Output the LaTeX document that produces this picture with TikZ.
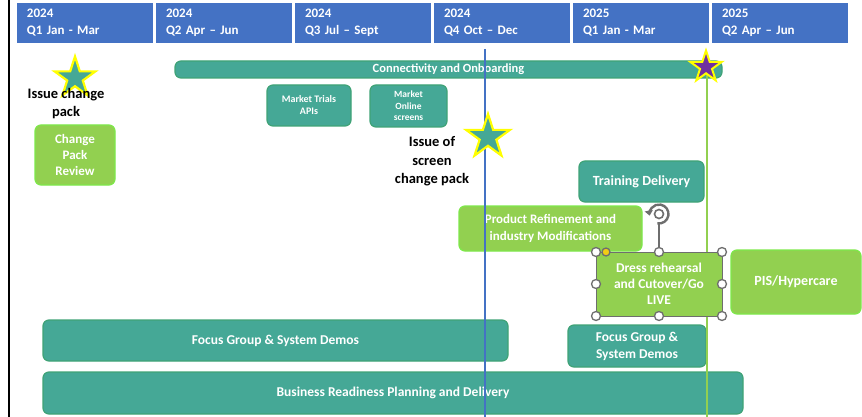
\documentclass[tikz,border=0pt]{standalone}
\usepackage{fontspec}
\setmainfont{Carlito}
\usetikzlibrary{shapes.geometric,arrows.meta}
\definecolor{hdrF}{HTML}{4472C4}
\definecolor{tealF}{HTML}{45A896}
\definecolor{tealD}{HTML}{3FA377}
\definecolor{grnF}{HTML}{92D050}
\definecolor{grnD}{HTML}{7EE84A}
\definecolor{hgray}{HTML}{6E6E6E}
\definecolor{starY}{HTML}{FFFF00}
\definecolor{purp}{HTML}{7030A0}
\definecolor{gold}{HTML}{F2CC14}
\newcommand{\fs}[2]{\fontsize{#1}{#2}\selectfont}
\begin{document}
\begin{tikzpicture}[x=1pt,y=-1pt,
  hdr/.style={fill=hdrF, draw=white, line width=0.6pt, minimum width=137pt, minimum height=41pt,
    text width=115pt, align=left, inner xsep=11pt, inner ysep=0pt, outer sep=0pt,
    text=white, font=\bfseries\fs{13}{17}},
  bx/.style={rounded corners=6pt, inner sep=2pt, outer sep=0pt, text=white,
    font=\bfseries\fs{13}{16}, align=center, line width=1.2pt},
  tbox/.style={bx, fill=tealF, draw=tealD},
  gbox/.style={bx, fill=grnF, draw=grnD},
  mstar/.style={star, star points=5, star point ratio=2.618, inner sep=0pt,
    draw=starY, line width=2.2pt},
  lbl/.style={font=\bfseries\fs{14.5}{17.5}, align=center, text=black, inner sep=0pt},
  handle/.style={circle, draw=hgray, fill=white, line width=1.3pt, minimum size=9pt, inner sep=0pt}
]
\useasboundingbox (0,0) rectangle (862,417);
\fill[white] (0,0) rectangle (862,417);

% header
\node[hdr] (q1) at (84.5,22.5) {2024\\Q1 Jan - Mar};
\node[hdr] (q2) at (223.5,22.5) {2024\\Q2 Apr -- Jun};
\node[hdr] (q3) at (362.5,22.5) {2024\\Q3 Jul -- Sept};
\node[hdr] (q4) at (501.5,22.5) {2024\\Q4 Oct -- Dec};
\node[hdr] (q5) at (640.5,22.5) {2025\\Q1 Jan - Mar};
\node[hdr] (q6) at (779.5,22.5) {2025\\Q2 Apr -- Jun};

% left border
\coordinate (bTop) at (9,0);
\coordinate (bBot) at (9,417);
\draw[black, line width=2pt] (bTop) -- (bBot);

% bars and boxes
\node[tbox, minimum width=547pt, minimum height=17pt, inner sep=0pt] (conn) at (448.5,69.5) {};
\node[text=white, font=\bfseries\fs{12.5}{14}, inner sep=0pt] (connT) at (448.5,69.5) {Connectivity and Onboarding};
\node[gbox, minimum width=80pt, minimum height=60pt] (cpr) at (75,155) {Change\\Pack\\Review};
\node[tbox, minimum width=84pt, minimum height=41pt, font=\bfseries\fs{10}{12}] (mta) at (309,105.5) {Market Trials\\APIs};
\node[tbox, minimum width=77pt, minimum height=42pt, font=\bfseries\fs{9.5}{11.5}] (mos) at (408.5,106) {Market\\Online\\screens};
\node[tbox, minimum width=125pt, minimum height=41pt, font=\bfseries\fs{14}{16}] (trd) at (641.5,181.5) {Training Delivery};
\node[gbox, minimum width=183pt, minimum height=45pt, font=\bfseries\fs{13}{17}] (pri) at (550.5,228.5) {Product Refinement and\\industry Modifications};
\node[gbox, minimum width=130pt, minimum height=64pt, font=\bfseries\fs{14}{16}] (pis) at (796,282) {PIS/Hypercare};
\node[tbox, minimum width=465pt, minimum height=41pt, font=\bfseries\fs{13.5}{16}] (fgb) at (275.5,340.5) {Focus Group \& System Demos};
\node[tbox, minimum width=138pt, minimum height=42pt, font=\bfseries\fs{13.5}{17}] (fgs) at (637,346) {Focus Group \&\\System Demos};
\node[tbox, minimum width=700pt, minimum height=42pt, font=\bfseries\fs{13.5}{16}] (brp) at (393,393) {Business Readiness Planning and Delivery};

% milestone lines
\coordinate (gTop) at (707,67);
\coordinate (gBot) at (707,417);
\draw[grnF, line width=2.5pt] (gTop) -- (gBot);
\coordinate (blTop) at (485,49);
\coordinate (blBot) at (485,417);
\draw[hdrF, line width=2.5pt] (blTop) -- (blBot);

% stars
\node[mstar, fill=tealF, minimum size=43pt] (s1) at (75,78) {};
\node[mstar, fill=tealF, minimum size=46pt] (s2) at (488,137) {};
\node[mstar, fill=purp, minimum size=33pt, line width=2pt] (s3) at (706,67) {};

% labels
\node[lbl] (l1) at (66,103.5) {Issue change\\pack};
\node[lbl, font=\bfseries\fs{14.5}{18.5}] (l2) at (432,161.5) {Issue of\\screen\\change pack};

% selected shape
\node[bx, fill=grnF, draw=hgray, line width=0.8pt, rounded corners=0pt, minimum width=126pt, minimum height=64pt, font=\bfseries\fs{13.5}{16}] (drs) at (659,284) {Dress rehearsal\\and Cutover/Go\\LIVE};
\node[handle] (h1) at (596,252) {};
\node[handle] (h2) at (659,252) {};
\node[handle] (h3) at (722,252) {};
\node[handle] (h4) at (596,284) {};
\node[handle] (h5) at (722,284) {};
\node[handle] (h6) at (596,316) {};
\node[handle] (h7) at (659,316) {};
\node[handle] (h8) at (722,316) {};
\node[handle, fill=gold, minimum size=8pt] (hy) at (606,252) {};
\node[circle, draw=hgray, line width=1.6pt, minimum size=9pt, inner sep=0pt] (rot) at (659,214) {};
\draw[hgray, line width=2.4pt, -{Triangle[length=5pt,width=8pt]}] (659,214) ++(100:9.5) arc[start angle=100, end angle=-190, radius=9.5];
\draw[hgray, line width=1.2pt] (659,224) -- (h2.north);
\end{tikzpicture}
\end{document}
